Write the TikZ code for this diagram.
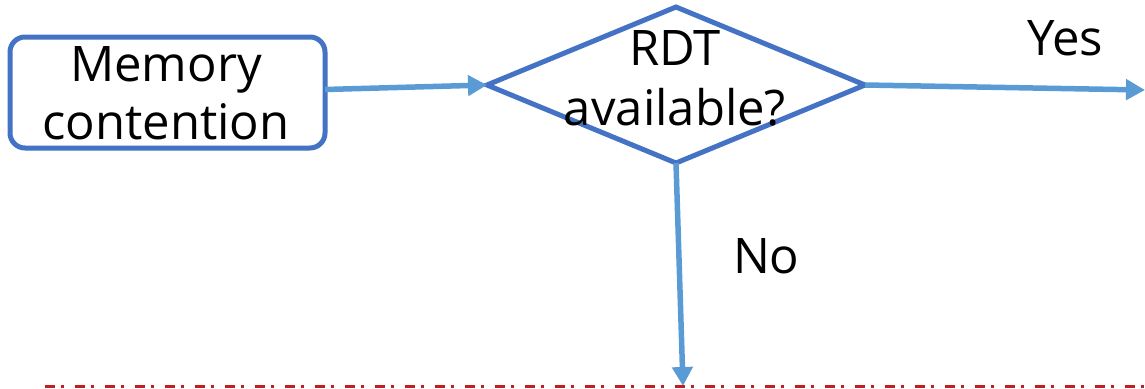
\documentclass[tikz,border=0pt]{standalone}
\usepackage{fontspec}
\setmainfont{Open Sans}
\usetikzlibrary{arrows.meta,shapes.geometric}
\definecolor{outlineblue}{RGB}{68,114,196}
\definecolor{arrowblue}{RGB}{91,155,213}
\definecolor{limitred}{RGB}{192,32,32}
\begin{document}
\begin{tikzpicture}[x=1pt,y=-1pt,
  every node/.style={inner sep=0pt,outer sep=0pt},
  bigtext/.style={font=\fontsize{49}{58}\selectfont,align=center,text=black},
  procbox/.style={draw=outlineblue,line width=5pt,rounded corners=15pt,fill=white},
  decision/.style={draw=outlineblue,line width=5pt,diamond,fill=white},
  flow/.style={draw=arrowblue,line width=5.5pt,-{Triangle[length=19pt,width=20pt]}},
  limit/.style={draw=limitred,line width=3pt,dash pattern=on 10pt off 6pt on 2.5pt off 11.5pt}]
\useasboundingbox (0,0) rectangle (1145,388);

% process box
\node[procbox,minimum width=315pt,minimum height=111pt] (box) at (167.5,92.5) {};
\node[bigtext] (boxtext) at (166,93) {Memory\\contention};

% decision diamond
\node[decision,minimum width=378pt,minimum height=156pt] (dec) at (676,85) {};
\node[bigtext,font=\fontsize{49}{60}\selectfont] (dectext) at (675,78) {RDT\\available?};

% free ends of the outgoing connectors
\coordinate (yesend) at (1145,90);
\coordinate (noend) at (683,386);

% connectors
\draw[flow] ([yshift=3pt]box.east) -- (dec.west);
\draw[flow] (dec.east) -- (yesend);
\draw[flow] (dec.south) -- (noend);

% branch labels
\node[bigtext,anchor=base west] (yes) at (1027,55) {Yes};
\node[bigtext,anchor=base west] (no) at (733,273) {No};

% boundary line
\coordinate (lineA) at (45,386.5);
\coordinate (lineB) at (1145,386.5);
\draw[limit] (lineA) -- (lineB);
\end{tikzpicture}
\end{document}
